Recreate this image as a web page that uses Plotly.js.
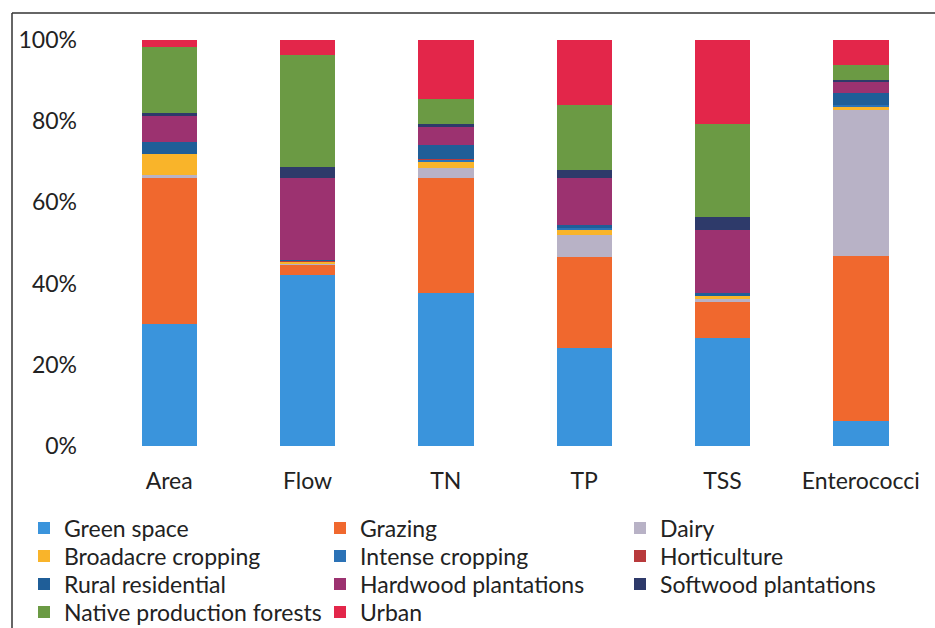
<!DOCTYPE html>
<html>
<head>
<meta charset="utf-8">
<script src="https://cdn.plot.ly/plotly-3.0.1.min.js"></script>
<style>html,body{margin:0;padding:0;background:#fff;}#chart{width:935px;height:628px;}</style>
</head>
<body>
<div id="chart"></div>
<script>
var categories = ["Area", "Flow", "TN", "TP", "TSS", "Enterococci"];
var seriesNames = ["Green space", "Grazing", "Dairy", "Broadacre cropping", "Intense cropping", "Horticulture", "Rural residential", "Hardwood plantations", "Softwood plantations", "Native production forests", "Urban"];
var greenSpace = [30.0, 42.1, 37.7, 24.1, 26.6, 6.2];
var grazing = [36.0, 2.5, 28.3, 22.5, 8.9, 40.6];
var dairy = [0.8, 0.2, 2.5, 5.4, 0.8, 36.0];
var broadacre = [5.2, 0.4, 1.5, 1.2, 0.7, 0.7];
var intenseCropping = [0.0, 0.0, 0.4, 0.6, 0.0, 0.5];
var horticulture = [0.0, 0.3, 0.3, 0.0, 0.0, 0.0];
var ruralResidential = [3.0, 0.3, 3.4, 0.6, 0.8, 2.9];
var hardwood = [6.3, 20.2, 4.5, 11.6, 15.4, 2.8];
var softwood = [0.7, 2.7, 0.6, 2.0, 3.2, 0.4];
var nativeForests = [16.3, 27.6, 6.2, 16.0, 22.9, 3.7];
var urban = [1.7, 3.7, 14.6, 16.0, 20.7, 6.2];
var yTickVals = [0, 20, 40, 60, 80, 100];
var yTickText = ["0%", "20%", "40%", "60%", "80%", "100%"];

var seriesValues = [greenSpace, grazing, dairy, broadacre, intenseCropping, horticulture, ruralResidential, hardwood, softwood, nativeForests, urban];
var colors = ["#3a94dc", "#f0682e", "#b8b2c6", "#f9b42a", "#2b72b6", "#b83a3c", "#1f5e98", "#9c3270", "#2e3a6a", "#6b9a44", "#e3264a"];

var font = "Lato, 'Open Sans', sans-serif";
var fs = 23;
var L = 100, R = 5, T = 40, B = 182;
var pw = 935 - L - R, ph = 628 - T - B;
function px2x(p) { return (p - L) / pw; }
function py2y(p) { return (628 - B - p) / ph; }

// legend grid: 3 columns, 4 rows (text start x, row centre y in pixels)
var colTextX = [64, 360, 660];
var rowCenters = [528, 556, 584, 612];

function legendId(i) { return i === 0 ? "legend" : "legend" + (i + 1); }

var traces = seriesNames.map(function (name, i) {
  return {
    type: "bar",
    name: name,
    x: categories,
    y: seriesValues[i],
    legend: legendId(i),
    marker: { color: colors[i], line: { width: 0 } },
    hoverinfo: "name+y"
  };
});

var layout = {
  width: 935, height: 628,
  margin: { l: L, r: R, t: T, b: B },
  paper_bgcolor: "#ffffff",
  plot_bgcolor: "#ffffff",
  barmode: "stack",
  bargap: 0.6,
  font: { family: font, size: fs, color: "#222" },
  showlegend: true,
  xaxis: {
    type: "category",
    showgrid: false, zeroline: false, showline: false,
    ticks: "", ticklabelstandoff: 19,
    tickfont: { family: font, size: fs, color: "#222" }
  },
  yaxis: {
    range: [0, 100],
    tickvals: yTickVals, ticktext: yTickText,
    showgrid: false, zeroline: false, showline: false,
    ticks: "", ticklabelstandoff: 22,
    tickfont: { family: font, size: fs, color: "#222" }
  },
  shapes: [
    { type: "line", xref: "paper", yref: "paper", x0: px2x(12), x1: px2x(940), y0: py2y(13), y1: py2y(13), line: { color: "#333", width: 1.5 } },
    { type: "line", xref: "paper", yref: "paper", x0: px2x(12), x1: px2x(12), y0: py2y(13), y1: py2y(640), line: { color: "#333", width: 1.5 } }
  ]
};

seriesNames.forEach(function (name, i) {
  var col = i % 3, row = Math.floor(i / 3);
  layout[legendId(i)] = {
    orientation: "h",
    xref: "container", yref: "container",
    x: (colTextX[col] - 40) / 935, xanchor: "left",
    y: (628 - rowCenters[row]) / 628, yanchor: "middle",
    bgcolor: "rgba(0,0,0,0)",
    font: { family: font, size: fs, color: "#222" },
    itemclick: false, itemdoubleclick: false
  };
});

Plotly.newPlot("chart", traces, layout, { displayModeBar: false, staticPlot: true });
</script>
</body>
</html>
